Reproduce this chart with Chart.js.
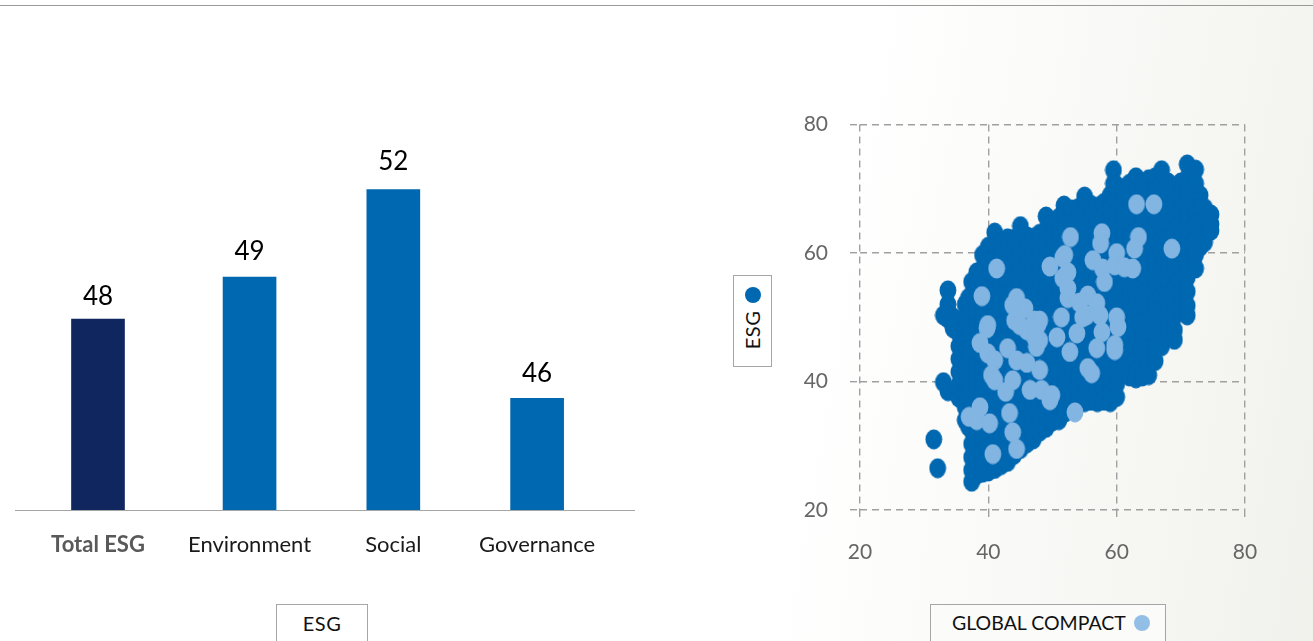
<!DOCTYPE html>
<html lang="en">
<head>
  <meta charset="UTF-8">
  <title>ESG scores</title>
  <script src="https://cdn.jsdelivr.net/npm/chart.js"></script>
  <style>
    html, body { margin: 0; padding: 0; width: 1313px; height: 641px; overflow: hidden; }
    body { position: relative; background: linear-gradient(100deg, #fff 62%, #f1f1ec 100%); font-family: Lato, sans-serif; color: #111; }
    canvas { position: absolute; }
    .rule { position: absolute; left: 0; top: 5px; width: 1313px; height: 1px; background: #999; }
    .box { position: absolute; box-sizing: border-box; border: 1px solid #a6a6a6; background: #fff; font-size: 20px; }
    .dot { position: absolute; width: 16px; height: 16px; border-radius: 50%; }
    #boxBars { left: 276px; top: 604px; width: 92px; height: 50px; text-align: center; line-height: 36px; letter-spacing: 0.5px; }
    #boxCompact { left: 930px; top: 604px; width: 236px; height: 50px; padding-left: 21px; line-height: 36px; font-size: 19.5px; background: #fbfbf9; }
    #boxCompact .dot { left: 203px; top: 10px; background: #93bee5; }
    #boxEsg { left: 733px; top: 275px; width: 39px; height: 92px; }
    #boxEsg .dot { left: 11px; top: 11px; background: #0067b1; }
    #boxEsg .label { position: absolute; left: 18px; top: 54px; transform: translate(-50%, -50%) rotate(-90deg); letter-spacing: 0.5px; }
  </style>
</head>
<body>

<div class="rule"></div>
<canvas id="totalChart" width="162" height="500" style="left:15px;top:90px"></canvas>
<canvas id="pillarChart" width="461" height="500" style="left:174px;top:90px"></canvas>
<canvas id="scatterChart" width="520" height="500" style="left:780px;top:90px"></canvas>

<div class="box" id="boxBars">ESG</div>
<div class="box" id="boxCompact">GLOBAL COMPACT<span class="dot"></span></div>
<div class="box" id="boxEsg"><span class="dot"></span><span class="label">ESG</span></div>

<script>
  const totalLabels = ['Total ESG'];
  const totalValues = [48.3];
  const pillarLabels = ['Environment', 'Social', 'Governance'];
  const pillarValues = [49.47, 51.9, 46.1];
  const scatterTicks = [20, 40, 60, 80];

  // dark cloud, one row per GLOBAL COMPACT value: [x, [ESG values]]
  const esgCloud = [
    [31.5, [31]], [32.1, [26.5]],
    [33, [50.3, 39.9]], [33.7, [54.2, 52, 49.8, 38.5]],
    [34.5, [50, 48.3]],
    [35.4, [47.5, 45.5, 43.5, 41.5, 39.5, 37.5]],
    [36.4, [52, 50, 48, 46, 44, 42, 40, 38, 36, 34]],
    [36.9, [53, 51, 49, 47, 45, 43, 41, 39, 37, 35, 33]],
    [37.4, [55.5, 53.4, 51.3, 49.2, 47.1, 45, 42.9, 40.8, 38.7, 36.6, 34.5, 32.4, 30.3, 28.2, 26.2, 24.4]],
    [38.2, [57, 54.9, 52.8, 50.7, 48.6, 46.5, 44.4, 42.3, 40.2, 38.1, 36, 33.9, 31.8, 29.7, 27.6, 25.5]],
    [39.1, [59.7, 57.5, 55.3, 53.1, 50.9, 48.7, 46.5, 44.3, 42.1, 39.9, 37.7, 35.5, 33.3, 31.1, 28.9, 26.7, 25.8]],
    [40, [61, 58.7, 56.5, 54.3, 52.1, 49.9, 47.7, 45.5, 43.3, 41.1, 38.9, 36.7, 34.5, 32.3, 30.1, 27.9, 26]],
    [41, [63.2, 61, 58.8, 56.6, 54.4, 52.2, 50, 47.8, 45.6, 43.4, 41.2, 39, 36.8, 34.6, 32.4, 30.2, 28, 26.4]],
    [42, [61.8, 59.6, 57.4, 55.2, 53, 50.8, 48.6, 46.4, 44.2, 42, 39.8, 37.6, 35.4, 33.2, 31, 28.8, 27]],
    [43, [62.3, 60.1, 57.9, 55.7, 53.5, 51.3, 49.1, 46.9, 44.7, 42.5, 40.3, 38.1, 35.9, 33.7, 31.5, 29.3, 27.5]],
    [44, [62.2, 60, 57.8, 55.6, 53.4, 51.2, 49, 46.8, 44.6, 42.4, 40.2, 38, 35.8, 33.6, 31.4, 28.6]],
    [45, [64.2, 62, 59.8, 57.6, 55.4, 53.2, 51, 48.8, 46.6, 44.4, 42.2, 40, 37.8, 35.6, 33.4, 31.2, 29.5]],
    [46, [62.6, 60.4, 58.2, 56, 53.8, 51.6, 49.4, 47.2, 45, 42.8, 40.6, 38.4, 36.2, 34, 31.8, 30.4]],
    [47, [62.4, 60.2, 58, 55.8, 53.6, 51.4, 49.2, 47, 44.8, 42.6, 40.4, 38.2, 36, 33.8, 31.6, 31]],
    [48, [63, 60.8, 58.6, 56.4, 54.2, 52, 49.8, 47.6, 45.4, 43.2, 41, 38.8, 36.6, 34.4, 32.2]],
    [49, [65.7, 63.5, 61.3, 59.1, 56.9, 54.7, 52.5, 50.3, 48.1, 45.9, 43.7, 41.5, 39.3, 37.1, 34.9, 32.8]],
    [50, [64.5, 62.4, 60.2, 58, 55.8, 53.6, 51.4, 49.2, 47, 44.8, 42.6, 40.4, 38.2, 36, 33.8]],
    [51, [65.5, 63.3, 61.1, 58.9, 56.7, 54.5, 52.3, 50.1, 47.9, 45.7, 43.5, 41.3, 39.1, 36.9, 34.7, 34]],
    [51.8, [67.4, 65]],
    [52, [66.2, 63.8, 61.6, 59.4, 57.2, 55, 52.8, 50.6, 48.4, 46.2, 44, 41.8, 39.6, 37.4, 35.2]],
    [53, [66.8, 64.6, 62.4, 60.2, 58, 55.8, 53.6, 51.4, 49.2, 47, 44.8, 42.6, 40.4, 38.2, 36]],
    [54, [67, 65, 62.9, 60.7, 58.5, 56.3, 54.1, 51.9, 49.7, 47.5, 45.3, 43.1, 40.9, 38.7, 36.5]],
    [55, [68.8, 66.6, 64.4, 62.2, 60, 57.8, 55.6, 53.4, 51.2, 49, 46.8, 44.6, 42.4, 40.2, 38, 36.8]],
    [56, [67.5, 65.3, 63.1, 60.9, 58.7, 56.5, 54.3, 52.1, 49.9, 47.7, 45.5, 43.3, 41.1, 38.9, 37]],
    [57, [67.2, 65, 62.8, 60.6, 58.4, 56.2, 54, 51.8, 49.6, 47.4, 45.2, 43, 40.8, 38.6, 36.8]],
    [58, [67.8, 65.6, 63.4, 61.2, 59, 56.8, 54.6, 52.4, 50.2, 48, 45.8, 43.6, 41.4, 39.2, 37]],
    [59, [69, 66.8, 64.6, 62.4, 60.2, 58, 55.8, 53.6, 51.4, 49.2, 47, 44.8, 42.6, 40.4, 38.2, 36.8]],
    [59.5, [72.9, 70.8]],
    [60, [70.5, 68.2, 66, 63.8, 61.6, 59.4, 57.2, 55, 52.8, 50.6, 48.4, 46.2, 44, 41.8, 39.6, 37.6]],
    [61, [70, 67.8, 65.6, 63.4, 61.2, 59, 56.8, 54.6, 52.4, 50.2, 48, 45.8, 43.6, 41.8]],
    [62, [70.8, 68.6, 66.4, 64.2, 62, 59.8, 57.6, 55.4, 53.2, 51, 48.8, 46.6, 44.4, 42.2, 40.8]],
    [63, [71.8, 69.6, 67.4, 65.2, 63, 60.8, 58.6, 56.4, 54.2, 52, 49.8, 47.6, 45.4, 43.2, 41, 40.5]],
    [64, [71, 68.9, 66.7, 64.5, 62.3, 60.1, 57.9, 55.7, 53.5, 51.3, 49.1, 46.9, 44.7, 42.5, 40.8]],
    [65, [71.5, 69.3, 67.1, 64.9, 62.7, 60.5, 58.3, 56.1, 53.9, 51.7, 49.5, 47.3, 45.1, 42.9, 41]],
    [66, [71.8, 69.6, 67.4, 65.2, 63, 60.8, 58.6, 56.4, 54.2, 52, 49.8, 47.6, 45.4, 43.2]],
    [67, [72.9, 70.7, 68.5, 66.3, 64.1, 61.9, 59.7, 57.5, 55.3, 53.1, 50.9, 48.7, 46.5, 45.5]],
    [68, [71, 68.8, 66.6, 64.4, 62.2, 60, 57.8, 55.6, 53.4, 51.2, 49, 46.8]],
    [69, [70, 67.8, 65.6, 63.4, 61.2, 59, 56.8, 54.6, 52.4, 50.2, 48, 46.5]],
    [70, [71, 68.8, 66.6, 64.4, 62.2, 60, 57.8, 55.6, 53.4, 51.2]],
    [71, [73.8, 71.6, 69.4, 67.2, 65, 62.8, 60.6, 58.4, 56.2, 54, 51.8, 50.3]],
    [72, [68, 65.8, 63.6, 61.4, 59.2]],
    [72.3, [73, 70.8, 68.6, 66.4, 64.2, 62, 59.8, 57.6]],
    [73, [69, 67, 65, 63, 61]],
    [73.7, [67, 64.8, 62.8, 61.7]],
    [74.7, [66, 64.5, 63.5]]
  ];

  // light points, [GLOBAL COMPACT, ESG]
  const compactPoints = [
    [41.3, 57.6], [39, 53.3], [44.4, 53], [43.8, 51.9], [45.7, 51.4], [44.1, 49.5], [47.2, 49.5], [49.6, 57.9],
    [51.6, 59.3], [52.8, 62.5], [51.6, 56.1], [52.4, 53], [51.4, 50], [39.9, 48.8], [63.1, 67.6], [65.8, 67.6],
    [68.6, 60.7], [57.7, 63.1], [57.5, 61.5], [56.3, 58.9], [57.8, 57.6], [58.1, 55.5], [60, 60], [59.7, 58.1],
    [61.2, 57.8], [63.4, 62.5], [62.8, 60.7], [62.5, 57.6], [51.9, 59.7], [52.4, 57], [52.4, 54.5], [55.5, 53.4],
    [56.9, 52.2], [54.2, 52.3], [57.4, 50.3], [60, 50], [55.3, 50.3], [60.2, 48.5], [59.7, 45.7], [59.7, 44.9],
    [50.7, 46.9], [52.7, 44.6], [53.8, 47.5], [54.7, 50], [57.7, 47.7], [56.9, 45.2], [55.5, 42.1], [56.1, 41.3],
    [48, 49.5], [48, 46.4], [48, 41.8], [48.3, 38.7], [49.6, 37.1], [53.5, 35.2], [39.8, 48.3], [38.7, 46],
    [39.9, 44.4], [41, 43.3], [40.5, 41], [41, 40.2], [42.7, 38.4], [43.8, 40.2], [43.3, 35.1], [43.8, 32.1],
    [44.4, 29.5], [40.7, 28.7], [37, 34.5], [38.7, 36], [38.2, 34], [40.2, 33.5], [43, 45.2], [44.4, 43.3],
    [46, 42.9], [46.5, 38.7], [47.5, 45.4], [47.2, 46.9], [44.9, 48.8], [46, 48], [47.7, 48.8], [49.9, 37.9]
  ];

  Chart.defaults.font.family = 'Lato, sans-serif';

  // values above the bars are shown rounded
  const barValueLabels = {
    id: 'barValueLabels',
    afterDatasetsDraw(chart) {
      const ctx = chart.ctx;
      const values = chart.data.datasets[0].data;
      const lift = chart.options.labelLift;
      chart.getDatasetMeta(0).data.forEach((bar, i) => {
        ctx.save();
        ctx.font = '26px Lato, sans-serif';
        ctx.fillStyle = '#000';
        ctx.textAlign = 'center';
        ctx.textBaseline = 'alphabetic';
        ctx.fillText(Math.round(values[i]), bar.x, bar.y - lift[i]);
        ctx.restore();
      });
    }
  };

  // the base line runs the full width of the canvas
  const baseLine = {
    id: 'baseLine',
    afterDraw(chart) {
      const y = chart.chartArea.bottom + 0.5;
      const ctx = chart.ctx;
      ctx.save();
      ctx.strokeStyle = '#a6a6a6';
      ctx.lineWidth = 1;
      ctx.beginPath();
      ctx.moveTo(0, y);
      ctx.lineTo(chart.width, y);
      ctx.stroke();
      ctx.restore();
    }
  };

  function barChart(id, labels, values, color, tickFont, tickColor, padding, lift) {
    new Chart(document.getElementById(id), {
      type: 'bar',
      data: {
        labels: labels,
        datasets: [{ data: values, backgroundColor: color, barThickness: 53 }]
      },
      options: {
        responsive: false,
        animation: false,
        labelLift: lift,
        layout: { padding: padding, autoPadding: false },
        plugins: { legend: { display: false }, tooltip: { enabled: false } },
        scales: {
          x: {
            grid: { display: false },
            border: { display: false },
            ticks: { font: tickFont, color: tickColor, padding: 14, maxRotation: 0, autoSkip: false },
            afterFit: s => { s.height = 80; }
          },
          y: { display: false, min: 43, max: 53.5 }
        }
      },
      plugins: [barValueLabels, baseLine]
    });
  }

  barChart('totalChart', totalLabels, totalValues, '#10265f', { size: 22, weight: 'bold' }, '#595959', { left: 4, top: 42 }, [14]);
  barChart('pillarChart', pillarLabels, pillarValues, '#0067b1', { size: 22 }, '#1a1a1a', { right: 26, top: 42 }, [17, 20, 16]);

  // slightly tall dots, as in the source picture
  function makeDot(color) {
    const c = document.createElement('canvas');
    c.width = 18;
    c.height = 21;
    const g = c.getContext('2d');
    g.fillStyle = color;
    g.beginPath();
    g.ellipse(9, 10.5, 8.4, 9.9, 0, 0, Math.PI * 2);
    g.fill();
    return c;
  }

  const gridLines = { color: '#a0a0a0', lineWidth: 1.4, tickLength: 10, tickColor: '#a0a0a0', tickBorderDash: [7, 5] };

  new Chart(document.getElementById('scatterChart'), {
    type: 'scatter',
    data: {
      datasets: [
        {
          label: 'ESG',
          data: esgCloud.flatMap(([x, ys]) => ys.map(y => ({ x: x, y: y }))),
          pointStyle: makeDot('#0067b1'),
          pointRadius: 9,
          order: 2
        },
        {
          label: 'GLOBAL COMPACT',
          data: compactPoints.map(([x, y]) => ({ x: x, y: y })),
          pointStyle: makeDot('#82b5e1'),
          pointRadius: 9,
          order: 1
        }
      ]
    },
    options: {
      responsive: false,
      animation: false,
      layout: { padding: { top: 34.5, right: 55 } },
      plugins: { legend: { display: false }, tooltip: { enabled: false } },
      scales: {
        x: {
          min: 20, max: 80,
          afterBuildTicks: s => { s.ticks = scatterTicks.map(v => ({ value: v })); },
          grid: gridLines,
          border: { display: false, dash: [7, 5] },
          ticks: { font: { size: 21 }, color: '#666', padding: 20 },
          afterFit: s => { s.height = 80; }
        },
        y: {
          min: 20, max: 80,
          afterBuildTicks: s => { s.ticks = scatterTicks.map(v => ({ value: v })); },
          grid: gridLines,
          border: { display: false, dash: [7, 5] },
          ticks: { font: { size: 21 }, color: '#666', padding: 22 },
          afterFit: s => { s.width = 80; }
        }
      }
    }
  });
</script>

</body>
</html>
